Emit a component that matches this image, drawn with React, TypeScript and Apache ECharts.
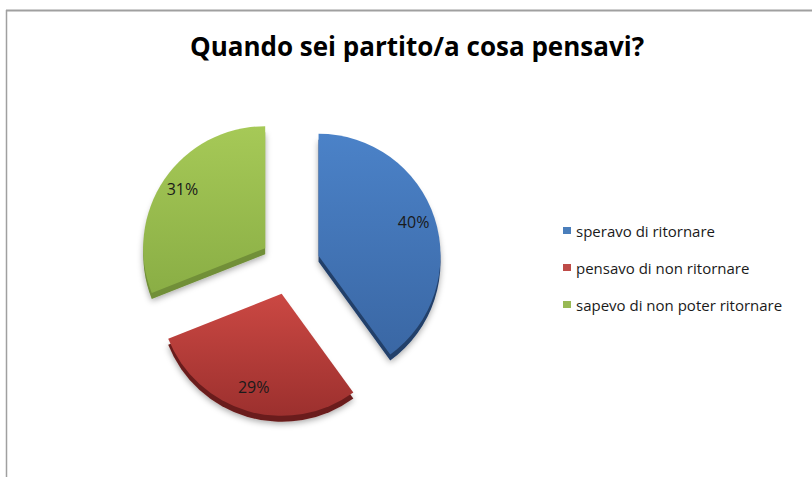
import React, { useEffect, useRef } from "react";
import * as echarts from "echarts";

const categories = [
  "speravo di ritornare",
  "pensavo di non ritornare",
  "sapevo di non poter ritornare",
];
const values = [40, 29, 31];
const titleText = "Quando sei partito/a cosa pensavi?";

const topColorsA = ["#4b82c8", "#cb4843", "#a6c957"];
const topColorsB = ["#3a67a4", "#9c302e", "#8aae45"];
const depthColors = ["#213f6b", "#6b1f1d", "#718f38"];
const legendColors = ["#4a7ebb", "#be4b48", "#98b954"];

const CX = 290;
const CY = 265;
const R = 122;
const DEPTH = 6;
const OFFSET = 30;

export default function App() {
  const ref = useRef<HTMLDivElement>(null);
  useEffect(() => {
    if (!ref.current) return;
    const chart = echarts.init(ref.current, null, { renderer: "svg" });
    const font = "'Open Sans', 'Noto Sans', sans-serif";
    const base = {
      type: "pie",
      radius: R,
      selectedMode: "multiple",
      selectedOffset: OFFSET,
      startAngle: 90,
      clockwise: true,
      silent: true,
      emphasis: { disabled: true },
      select: { itemStyle: { borderWidth: 0 } },
      labelLine: { show: false },
    };
    chart.setOption({
      animation: false,
      backgroundColor: "#ffffff",
      title: {
        text: titleText,
        left: 412,
        textAlign: "center",
        top: 28,
        textStyle: {
          fontFamily: font,
          fontSize: 26,
          fontWeight: "bold",
          color: "#000000",
        },
      },
      legend: {
        orient: "vertical",
        left: 563,
        top: 222,
        padding: 0,
        itemWidth: 8,
        itemHeight: 7,
        itemGap: 20,
        icon: "rect",
        selectedMode: false,
        textStyle: {
          fontFamily: font,
          fontSize: 15,
          lineHeight: 17,
          color: "#1a1a1a",
        },
        data: categories.map((n, i) => ({
          name: n,
          itemStyle: { color: legendColors[i] },
        })),
      },
      graphic: [
        {
          type: "line",
          shape: { x1: 6, y1: 10.5, x2: 812, y2: 10.5 },
          style: { stroke: "#a0a0a0", lineWidth: 2 },
          silent: true,
        },
        {
          type: "line",
          shape: { x1: 6.5, y1: 10, x2: 6.5, y2: 477 },
          style: { stroke: "#a0a0a0", lineWidth: 1.5 },
          silent: true,
        },
      ],
      series: [
        {
          ...base,
          name: "depth",
          center: [CX, CY + DEPTH],
          label: { show: false },
          data: categories.map((n, i) => ({
            name: n,
            value: values[i],
            selected: true,
            itemStyle: {
              color: depthColors[i],
              shadowBlur: 6,
              shadowColor: "rgba(0,0,0,0.35)",
              shadowOffsetY: 2,
            },
          })),
        },
        {
          ...base,
          name: "top",
          center: [CX, CY],
          label: { show: false },
          data: categories.map((n, i) => ({
            name: n,
            value: values[i],
            selected: true,
            itemStyle: {
              color: new echarts.graphic.LinearGradient(0, 0, 0, 1, [
                { offset: 0, color: topColorsA[i] },
                { offset: 1, color: topColorsB[i] },
              ]),
            },
          })),
        },
        {
          ...base,
          name: "labels",
          center: [CX, CY - 3],
          radius: [72, R],
          percentPrecision: 0,
          itemStyle: { color: "rgba(0,0,0,0)" },
          label: {
            show: true,
            position: "inside",
            formatter: "{d}%",
            fontFamily: font,
            fontSize: 16,
            color: "#1a1a1a",
          },
          data: categories.map((n, i) => ({
            name: n,
            value: values[i],
            selected: true,
          })),
        },
      ],
    });
    return () => chart.dispose();
  }, []);
  return (
    <div
      ref={ref}
      style={{ position: "fixed", left: 0, top: 0, width: 812, height: 477 }}
    />
  );
}
